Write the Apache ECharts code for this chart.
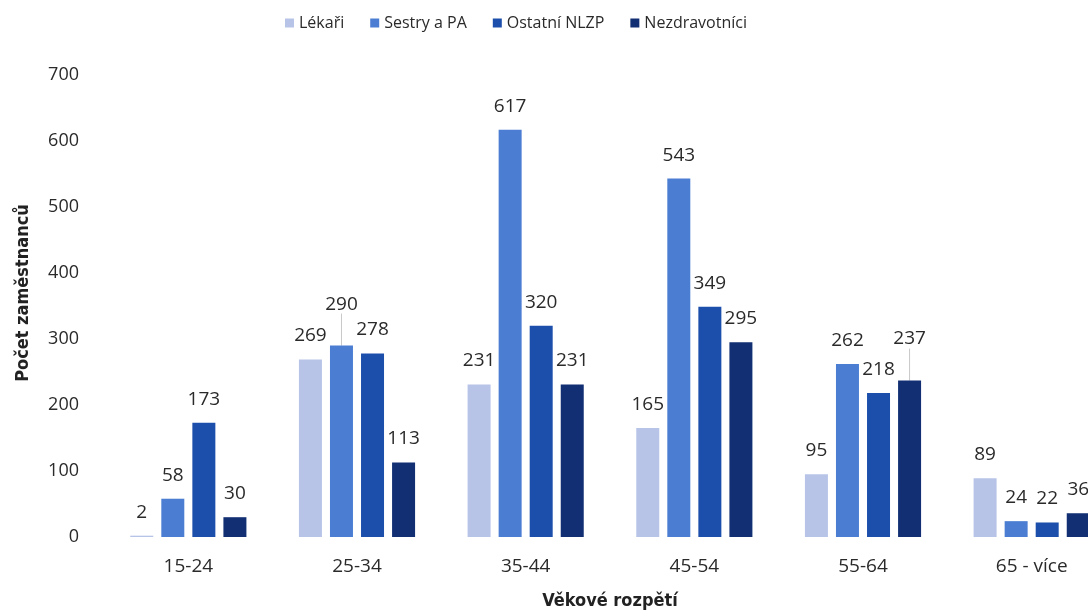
<!DOCTYPE html>
<html>
<head>
<meta charset="utf-8">
<script src="https://cdn.jsdelivr.net/npm/echarts@6/dist/echarts.min.js"></script>
<style>
  html, body { margin: 0; padding: 0; background: #fff; }
  #chart { width: 1088px; height: 611px; }
</style>
</head>
<body>
<div id="chart"></div>
<script>
const categories = ['15-24', '25-34', '35-44', '45-54', '55-64', '65 - více']
const seriesNames = ['Lékaři', 'Sestry a PA', 'Ostatní NLZP', 'Nezdravotníci']
const lekari = [2, 269, 231, 165, 95, 89]
const sestry = [58, 290, 617, 543, 262, 24]
const ostatni = [173, 278, 320, 349, 218, 22]
const nezdravotnici = [30, 113, 231, 295, 237, 36]
// labels pushed up by hand in the original, with a leader line
const raisedLabels = [[1, 1], [3, 4]]

const colors = ['#b7c4e8', '#4b7ed3', '#1c4fab', '#112f72']
const textFont = '"Open Sans", "Noto Sans", sans-serif'
const titleFont = '"Liberation Sans Narrow", "DejaVu Sans Condensed", "Liberation Sans", sans-serif'

function isRaised(s, i) {
  return raisedLabels.some(r => r[0] === s && r[1] === i)
}

function makeSeries(name, values, s) {
  return {
    name: name,
    type: 'bar',
    barWidth: 23,
    barGap: '35%',
    itemStyle: { color: colors[s] },
    label: {
      show: true,
      position: 'top',
      distance: 14,
      color: '#2a2a2a',
      fontSize: 19,
      fontFamily: textFont
    },
    labelLine: { show: false, lineStyle: { color: '#c8c8c8', width: 1 } },
    data: values.map((v, i) => isRaised(s, i)
      ? { value: v, labelLine: { show: true, lineStyle: { color: '#c8c8c8', width: 1 } } }
      : v)
  }
}

const chart = echarts.init(document.getElementById('chart'), null, { renderer: 'canvas' })
chart.setOption({
  animation: false,
  backgroundColor: '#fff',
  legend: {
    top: 10,
    left: 280,
    itemWidth: 9,
    itemHeight: 9,
    itemGap: 26,
    icon: 'rect',
    textStyle: { fontSize: 16, color: '#2a2a2a', fontFamily: textFont },
    data: seriesNames
  },
  grid: {
    left: 104,
    top: 75,
    width: 1012,
    height: 462,
    containLabel: false,
    outerBoundsMode: 'none'
  },
  xAxis: {
    type: 'category',
    data: categories,
    name: 'Věkové rozpětí',
    nameLocation: 'middle',
    nameGap: 55,
    nameTextStyle: { fontSize: 18, fontWeight: 'bold', color: '#222', fontFamily: titleFont },
    axisLine: { show: false },
    axisTick: { show: false },
    axisLabel: { margin: 20, fontSize: 19, color: '#2a2a2a', fontFamily: textFont }
  },
  yAxis: {
    type: 'value',
    min: 0,
    max: 700,
    interval: 100,
    name: 'Počet zaměstnanců',
    nameLocation: 'middle',
    nameGap: 72,
    nameTextStyle: { fontSize: 18, fontWeight: 'bold', color: '#222', fontFamily: titleFont, padding: [0, 0, 0, 26] },
    splitLine: { show: false },
    axisLine: { show: false },
    axisTick: { show: false },
    axisLabel: { margin: 25, fontSize: 18, color: '#2a2a2a', fontFamily: textFont }
  },
  labelLayout: function (params) {
    if (isRaised(params.seriesIndex, params.dataIndex)) {
      return { dy: -18 }
    }
  },
  series: [
    makeSeries(seriesNames[0], lekari, 0),
    makeSeries(seriesNames[1], sestry, 1),
    makeSeries(seriesNames[2], ostatni, 2),
    makeSeries(seriesNames[3], nezdravotnici, 3)
  ]
})
</script>
</body>
</html>
